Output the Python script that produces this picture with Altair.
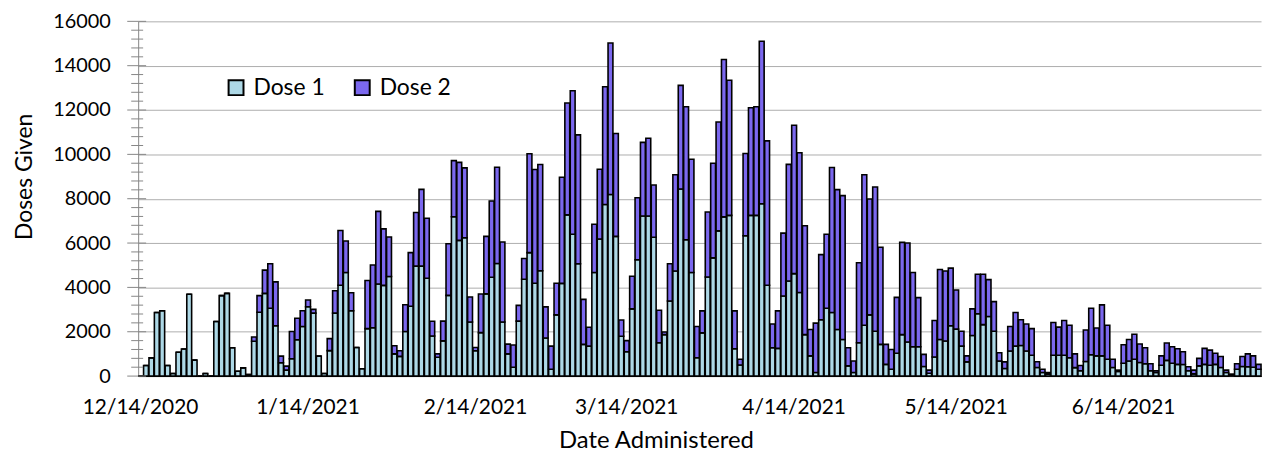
import altair as alt
import pandas as pd

START_DATE = "2020-12-14"

DOSE1 = [
    0,
    480, 820, 2870, 2950, 480, 120, 1075, 1220, 3690, 720, 0, 120, 0, 2460, 3630, 3730, 1280, 220, 370, 70,
    1570, 2880, 3730, 3060, 2270, 600, 270, 780, 1640, 2240, 3130, 2840, 900, 120, 1150, 2840, 4100, 4670, 2950, 1290, 330,
    2140, 2180, 4150, 4090, 4490, 1000, 890, 2010, 3150, 4960, 4960, 4410, 1810, 850, 1590, 3640, 7190, 6120, 6240, 2440,
    1140, 1960, 3710, 4460, 5080, 2440, 1000, 400, 2480, 4370, 5570, 4190, 4750, 1720, 310, 2760, 4180, 7270, 6400, 5070,
    1430, 1350, 4670, 6180, 7740, 8190, 6300, 1800, 1100, 3030, 5250, 7220, 7220, 6260, 1500, 1870, 3390, 4740, 8440, 6150,
    4670, 830, 1950, 4470, 5330, 6550, 7180, 7250, 1230, 500, 6330, 7250, 7250, 7770, 4100, 1280, 1250, 3610, 4290, 4620,
    3770, 1870, 910, 160, 2540, 3060, 2870, 2100, 1650, 460, 160, 1500, 2290, 2760, 2020, 1430, 530, 310, 1030, 1870,
    1540, 1320, 1320, 430, 130, 860, 1650, 1580, 2270, 2120, 1350, 640, 1830, 2810, 2320, 2690, 2020, 680, 340, 1130,
    1350, 1380, 1130, 940, 390, 160, 90, 940, 940, 940, 830, 380, 240, 660, 960, 910, 910, 760, 390, 210,
    580, 680, 760, 610, 560, 240, 160, 490, 710, 580, 530, 520, 240, 100, 460, 530, 490, 530, 390, 160,
    60, 310, 430, 420, 400, 310,
]

DOSE2 = [
    0,
    0, 0, 0, 0, 0, 0, 0, 0, 0, 0, 0, 0, 0, 0, 0, 0, 0, 0, 0, 0,
    190, 750, 1050, 2010, 1980, 300, 180, 1230, 970, 710, 300, 170, 0, 0, 540, 1010, 2470, 1420, 810, 0, 0,
    2170, 2830, 3280, 2550, 1780, 370, 250, 1210, 2420, 2420, 3460, 2710, 660, 150, 890, 2330, 2530, 3520, 3150, 1130,
    150, 1740, 2590, 3440, 4340, 3610, 440, 1000, 710, 930, 4460, 5130, 4790, 1400, 1040, 1430, 4790, 5050, 6470, 5810,
    2030, 850, 2180, 3150, 5310, 6830, 4640, 730, 500, 1470, 2790, 3320, 3510, 2360, 1470, 120, 1680, 4340, 4670, 6000,
    5110, 1410, 990, 2930, 4270, 4910, 7100, 6090, 1710, 260, 3710, 4850, 4900, 7330, 6510, 1070, 1690, 2840, 5260, 6690,
    6300, 4910, 1190, 2230, 2940, 3340, 6540, 6310, 6490, 820, 520, 3610, 6790, 5230, 6510, 4380, 900, 890, 2520, 4160,
    4460, 3350, 2220, 550, 140, 1650, 3160, 3160, 2600, 1760, 670, 270, 1200, 1780, 2270, 1660, 1340, 370, 300, 1110,
    1520, 1160, 1220, 1200, 260, 150, 70, 1480, 1270, 1570, 1460, 620, 240, 1420, 2100, 1260, 2300, 1530, 370, 60,
    830, 970, 1130, 840, 720, 320, 80, 420, 780, 740, 700, 580, 180, 170, 340, 720, 680, 500, 490, 110,
    30, 250, 450, 580, 510, 220,
]

SERIES = ["Dose 1", "Dose 2"]
COLORS = ["#ADD8E6", "#7B68EE"]
X_LABELS = ["12/14/2020", "1/14/2021", "2/14/2021", "3/14/2021",
            "4/14/2021", "5/14/2021", "6/14/2021"]
Y_MAJOR = [0, 2000, 4000, 6000, 8000, 10000, 12000, 14000, 16000]
Y_MINOR = [v for v in range(0, 16001, 400) if v % 2000 != 0]

dates = pd.date_range(START_DATE, periods=len(DOSE1), freq="D")
labels = [f"{d.month}/{d.day}/{d.year}" for d in dates]
rows = []
for lab, a, b in zip(labels, DOSE1, DOSE2):
    rows.append({"date": lab, "dose": SERIES[0], "rank": 0, "value": a})
    rows.append({"date": lab, "dose": SERIES[1], "rank": 1, "value": b})
df = pd.DataFrame(rows)

FONT = "Lato"
AXIS_GRAY = "#868686"
YSCALE = alt.Scale(domain=[0, 16000], nice=False)


def y_axis():
    return alt.Axis(
        values=Y_MAJOR, format="d", ticks=False, tickSize=0, labelPadding=28,
        labelFontSize=20, labelFont=FONT, labelColor="black",
        grid=True, gridColor="#ADADAD", gridWidth=1,
        domainColor=AXIS_GRAY,
        title="Doses Given", titleFont=FONT, titleFontSize=23,
        titleFontWeight="normal", titleColor="black",
        titleAngle=-90, titleX=-114, titleY=156, titleBaseline="middle",
        titleAlign="center",
    )


bars = alt.Chart(df).mark_bar(stroke="black", strokeWidth=1.6).encode(
    x=alt.X(
        "date:O", sort=labels,
        scale=alt.Scale(paddingInner=0.1, paddingOuter=0),
        axis=alt.Axis(
            values=X_LABELS, labelAngle=0, ticks=False, tickSize=0,
            labelPadding=21, labelFontSize=21, labelFont=FONT, labelColor="black",
            labelOverlap=False, domainColor=AXIS_GRAY, grid=False,
            title="Date Administered", titleFont=FONT, titleFontSize=24,
            titleFontWeight="normal", titleColor="black",
            titleX=521, titleY=65, titleBaseline="middle", titleAlign="center",
        ),
    ),
    y=alt.Y("value:Q", stack="zero", scale=YSCALE, axis=y_axis()),
    color=alt.Color(
        "dose:N",
        scale=alt.Scale(domain=SERIES, range=COLORS),
        legend=alt.Legend(
            orient="none", legendX=87, legendY=55, direction="horizontal",
            title=None, symbolType="square", symbolSize=225,
            symbolStrokeColor="black", symbolStrokeWidth=2,
            labelFontSize=23, labelFont=FONT, labelColor="black",
            columnPadding=26, padding=0, labelOffset=6,
        ),
    ),
    order=alt.Order("rank:Q", sort="ascending"),
)

major_ticks = alt.Chart(pd.DataFrame({"value": Y_MAJOR})).mark_rule(
    color=AXIS_GRAY, strokeWidth=1
).encode(
    y=alt.Y("value:Q", scale=YSCALE, axis=y_axis()),
    x=alt.value(-11), x2=alt.value(8),
)

minor_ticks = alt.Chart(pd.DataFrame({"value": Y_MINOR})).mark_rule(
    color=AXIS_GRAY, strokeWidth=1
).encode(
    y=alt.Y("value:Q", scale=YSCALE, axis=y_axis()),
    x=alt.value(-7), x2=alt.value(5),
)

chart = alt.layer(bars, major_ticks, minor_ticks).properties(
    width=1130, height=357,
    autosize=alt.AutoSizeParams(type="none"),
    padding={"left": 131, "top": 12, "right": 4, "bottom": 80},
).configure(font=FONT).configure_view(strokeWidth=0)

chart.save("out.html", embed_options={"renderer": "svg", "actions": False})
